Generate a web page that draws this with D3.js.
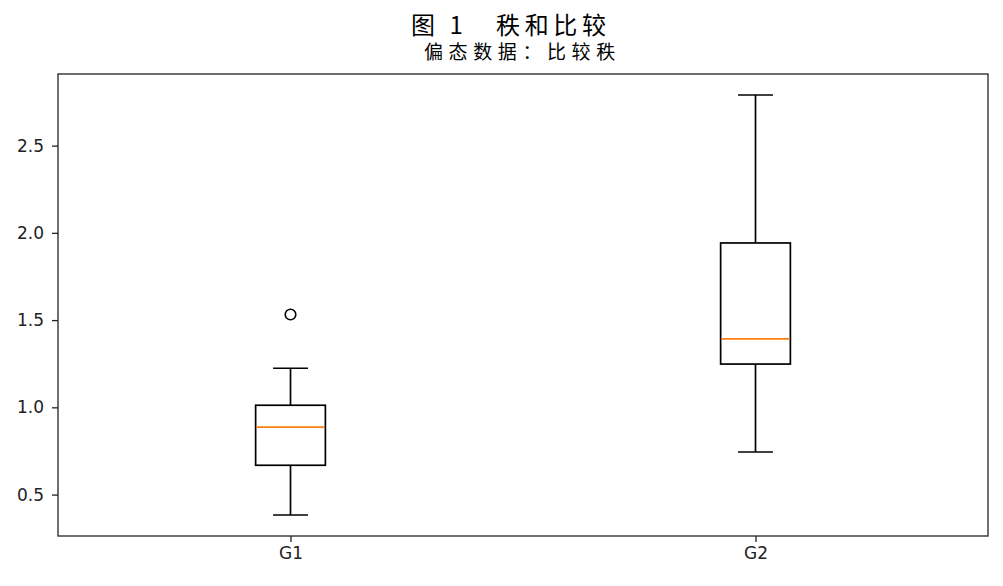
<!DOCTYPE html>
<html>
<head>
<meta charset="utf-8">
<script src="https://cdn.jsdelivr.net/npm/d3@7"></script>
<style>
  body { margin: 0; background: #fff; }
  svg { display: block; }
</style>
</head>
<body>
<div id="chart"></div>
<script>
// box plot summary
var groups = ['G1', 'G2'];
var whisker_low = [0.383, 0.744];
var q1 = [0.668, 1.248];
var median = [0.887, 1.392];
var q3 = [1.012, 1.942];
var whisker_high = [1.224, 2.790];
var outliers = [[1.532], []];
var y_ticks = [0.5, 1.0, 1.5, 2.0, 2.5];

var width = 1003;
var height = 586;
var margin = { top: 74, right: 15, bottom: 50, left: 58 };
var plot_w = width - margin.left - margin.right;
var plot_h = height - margin.top - margin.bottom;

var svg = d3
  .select('#chart')
  .append('svg')
  .attr('width', width)
  .attr('height', height);

// positions 1..n, xlim 0.5..n+0.5 like matplotlib
var x_scale = d3
  .scaleLinear()
  .domain([0.5, groups.length + 0.5])
  .range([margin.left, margin.left + plot_w]);

// autoscale with 5% margin around all drawn values
var all_vals = whisker_low.concat(whisker_high, d3.merge(outliers));
var lo = d3.min(all_vals);
var hi = d3.max(all_vals);
var pad = (hi - lo) * 0.05;
var y_scale = d3
  .scaleLinear()
  .domain([lo - pad, hi + pad])
  .range([margin.top + plot_h, margin.top]);

var box_half = 0.075; // box width 0.15 in data units
var cap_half = box_half / 2;

// y axis
var y_axis = d3
  .axisLeft(y_scale)
  .tickValues(y_ticks)
  .tickFormat(d3.format('.1f'))
  .tickSize(6)
  .tickPadding(8);
var gy = svg
  .append('g')
  .attr('transform', 'translate(' + margin.left + ',0)')
  .call(y_axis);

// x axis
var x_axis = d3
  .axisBottom(x_scale)
  .tickValues(d3.range(1, groups.length + 1))
  .tickFormat(function(d) {
    return groups[d - 1];
  })
  .tickSize(6)
  .tickPadding(5);
var gx = svg
  .append('g')
  .attr('transform', 'translate(0,' + (margin.top + plot_h) + ')')
  .call(x_axis);

[gx, gy].forEach(function(g) {
  g.select('.domain').remove();
  g.selectAll('.tick line').attr('stroke', '#222').attr('stroke-width', 1.3);
  g.selectAll('.tick text')
    .attr('font-family', 'DejaVu Sans, sans-serif')
    .attr('font-size', 17)
    .attr('fill', '#222');
});

// frame
svg
  .append('rect')
  .attr('x', margin.left)
  .attr('y', margin.top)
  .attr('width', plot_w)
  .attr('height', plot_h)
  .attr('fill', 'none')
  .attr('stroke', '#222')
  .attr('stroke-width', 1.3);

// boxes
var boxes = svg
  .selectAll('g.box')
  .data(groups)
  .enter()
  .append('g')
  .attr('class', 'box')
  .attr('stroke', '#000')
  .attr('stroke-width', 1.7)
  .attr('fill', 'none');

// whiskers
boxes
  .append('line')
  .attr('x1', function(d, i) { return x_scale(i + 1); })
  .attr('x2', function(d, i) { return x_scale(i + 1); })
  .attr('y1', function(d, i) { return y_scale(q1[i]); })
  .attr('y2', function(d, i) { return y_scale(whisker_low[i]); });
boxes
  .append('line')
  .attr('x1', function(d, i) { return x_scale(i + 1); })
  .attr('x2', function(d, i) { return x_scale(i + 1); })
  .attr('y1', function(d, i) { return y_scale(q3[i]); })
  .attr('y2', function(d, i) { return y_scale(whisker_high[i]); });

// caps
boxes
  .append('line')
  .attr('x1', function(d, i) { return x_scale(i + 1 - cap_half); })
  .attr('x2', function(d, i) { return x_scale(i + 1 + cap_half); })
  .attr('y1', function(d, i) { return y_scale(whisker_low[i]); })
  .attr('y2', function(d, i) { return y_scale(whisker_low[i]); });
boxes
  .append('line')
  .attr('x1', function(d, i) { return x_scale(i + 1 - cap_half); })
  .attr('x2', function(d, i) { return x_scale(i + 1 + cap_half); })
  .attr('y1', function(d, i) { return y_scale(whisker_high[i]); })
  .attr('y2', function(d, i) { return y_scale(whisker_high[i]); });

// the box itself
boxes
  .append('rect')
  .attr('x', function(d, i) { return x_scale(i + 1 - box_half); })
  .attr('width', function(d, i) {
    return x_scale(i + 1 + box_half) - x_scale(i + 1 - box_half);
  })
  .attr('y', function(d, i) { return y_scale(q3[i]); })
  .attr('height', function(d, i) { return y_scale(q1[i]) - y_scale(q3[i]); });

// median
boxes
  .append('line')
  .attr('stroke', '#ff7f0e')
  .attr('x1', function(d, i) { return x_scale(i + 1 - box_half) + 1; })
  .attr('x2', function(d, i) { return x_scale(i + 1 + box_half) - 1; })
  .attr('y1', function(d, i) { return y_scale(median[i]); })
  .attr('y2', function(d, i) { return y_scale(median[i]); });

// fliers
boxes
  .selectAll('circle')
  .data(function(d, i) {
    return outliers[i].map(function(v) { return { pos: i + 1, v: v }; });
  })
  .enter()
  .append('circle')
  .attr('cx', function(d) { return x_scale(d.pos); })
  .attr('cy', function(d) { return y_scale(d.v); })
  .attr('r', 5.3)
  .attr('stroke-width', 1.6);

// titles (start-anchored so trailing letter-spacing does not shift them)
svg
  .append('text')
  .attr('x', 411)
  .attr('y', 34)
  .attr('font-family', 'Noto Sans CJK SC, sans-serif')
  .attr('font-size', 24)
  .attr('letter-spacing', 4.6)
  .attr('fill', '#000')
  .text('图 1　秩和比较');

svg
  .append('text')
  .attr('x', 424)
  .attr('y', 59)
  .attr('font-family', 'Noto Sans CJK SC, sans-serif')
  .attr('font-size', 19)
  .attr('letter-spacing', 5.6)
  .attr('fill', '#000')
  .text('偏态数据：比较秩');
</script>
</body>
</html>
